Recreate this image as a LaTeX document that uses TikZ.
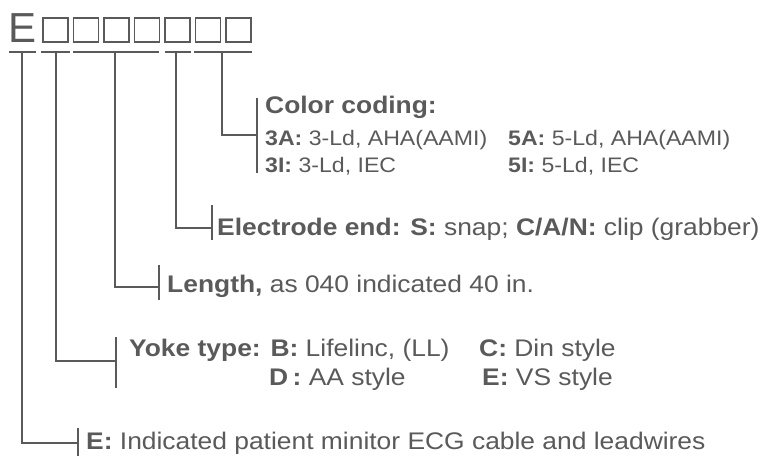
\documentclass[tikz,border=0pt]{standalone}
\usepackage{graphicx}
\usepackage{fontspec}
\setmainfont{Liberation Sans}
\definecolor{ink}{HTML}{5A5A5A}
\newcommand{\hstretch}[1]{\scalebox{1.1}[1]{#1}}
\begin{document}
\begin{tikzpicture}[x=1pt,y=-1pt,
  conn/.style={draw=ink,line width=1.6pt},
  codebox/.style={draw=ink,line width=1.1pt,minimum width=25pt,minimum height=24pt,inner sep=0pt},
  lbl/.style={anchor=base west,inner sep=0pt,text=ink,font=\fontsize{24}{24}\selectfont},
  small/.style={anchor=base west,inner sep=0pt,text=ink,font=\fontsize{21}{21}\selectfont}]
\useasboundingbox (0,0) rectangle (765,455);
\fill[white] (0,0) rectangle (765,455);
% heading
\node[anchor=base west,inner sep=0pt,text=ink,font=\fontsize{42}{42}\selectfont] (E) at (8,42) {E};
\foreach \i/\x in {1/55.5,2/86,3/116.5,4/147,5/177.5,6/208,7/238.5}
  \node[codebox] (b\i) at (\x,30) {};
% bars
\draw[conn] (9,52) -- (36,52);
\draw[conn] (41,52) -- (70,52);
\draw[conn] (73,52) -- (159,52);
\draw[conn] (165,52) -- (191,52);
\draw[conn] (194,52) -- (252,52);
% ticks
\coordinate (t1a) at (78,428); \coordinate (t1b) at (78,458);
\coordinate (t2a) at (116,337); \coordinate (t2b) at (116,388);
\coordinate (t3a) at (159,265); \coordinate (t3b) at (159,300);
\coordinate (t4a) at (212,205); \coordinate (t4b) at (212,240);
\coordinate (t5a) at (257,98); \coordinate (t5b) at (257,173);
\draw[conn] (t1a) -- (t1b);
\draw[conn] (t2a) -- (t2b);
\draw[conn] (t3a) -- (t3b);
\draw[conn] (t4a) -- (t4b);
\draw[conn] (t5a) -- (t5b);
% elbows
\draw[conn] (22,52) |- (78,443);
\draw[conn] (56,52) |- (116,361);
\draw[conn] (115,52) |- (159,287);
\draw[conn] (176,52) |- (212,228);
\draw[conn] (222,52) |- (257,135);
% texts
\node[lbl] (cc) at (265,113) {\hstretch{\bfseries Color coding:}};
\node[small] (c3a) at (265,145) {\hstretch{\bfseries 3A:\mdseries\ 3-Ld, AHA(AAMI)}};
\node[small] (c5a) at (508,145) {\hstretch{\bfseries 5A:\mdseries\ 5-Ld, AHA(AAMI)}};
\node[small] (c3i) at (265,172) {\hstretch{\bfseries 3I:\mdseries\ 3-Ld, IEC}};
\node[small] (c5i) at (508,172) {\hstretch{\bfseries 5I:\mdseries\ 5-Ld, IEC}};
\node[lbl] (el) at (217,235) {\hstretch{\bfseries Electrode end: S:\mdseries\ snap; \bfseries C/A/N:\mdseries\ clip (grabber)}};
\node[lbl] (len) at (167,292) {\hstretch{\bfseries Length,\mdseries\ as 040 indicated 40 in.}};
\node[lbl] (yk) at (129,356) {\hstretch{\bfseries Yoke type: B:\mdseries\ Lifelinc, (LL)}};
\node[lbl] (ykc) at (479,356) {\hstretch{\bfseries C:\mdseries\ Din style}};
\node[lbl] (ykd) at (269,385) {\hstretch{\bfseries D\,:\mdseries\ AA style}};
\node[lbl] (yke) at (482,385) {\hstretch{\bfseries E:\mdseries\ VS style}};
\node[lbl] (ecg) at (86,449) {\hstretch{\bfseries E:\mdseries\ Indicated patient minitor ECG cable and leadwires}};
\end{tikzpicture}
\end{document}
